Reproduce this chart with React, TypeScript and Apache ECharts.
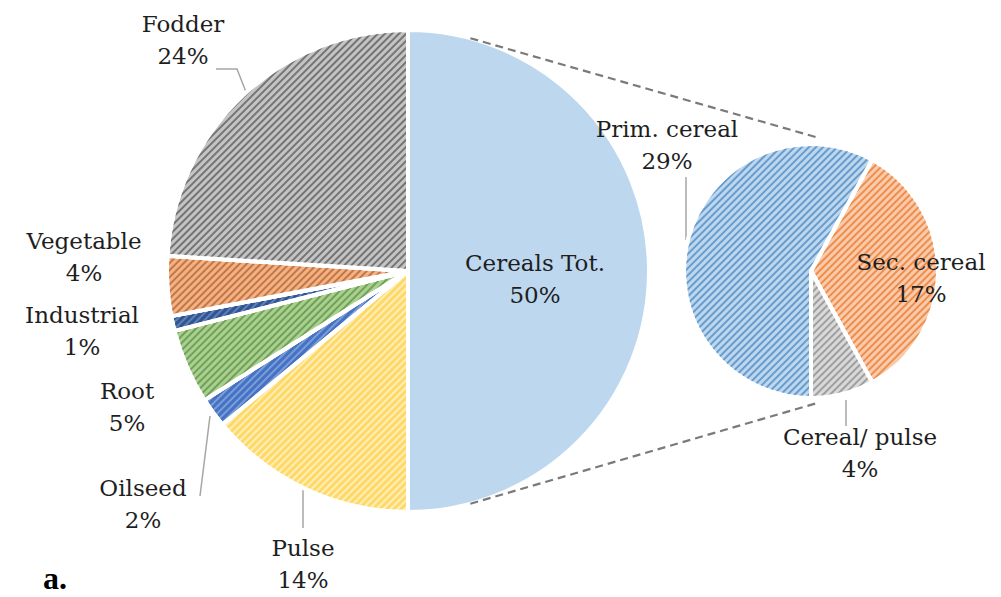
import React, { useEffect, useRef } from 'react';
import * as echarts from 'echarts';

// ---- data ----
const mainNames = ['Cereals Tot.', 'Pulse', 'Oilseed', 'Root', 'Industrial', 'Vegetable', 'Fodder'];
const mainValues = [50, 14, 2, 5, 1, 4, 24];
const subNames = ['Sec. cereal', 'Cereal/ pulse', 'Prim. cereal'];
const subValues = [17, 4, 29];

// ---- styles / layout ----
const mainColors = ['#BDD7EE', '#FFD966', '#4472C4', '#A9D18E', '#2F5597', '#F4B183', '#C4C4C4'];
const mainHatch = [null, 'rgba(255,255,255,0.55)', 'rgba(255,255,255,0.3)', 'rgba(60,110,40,0.5)', 'rgba(255,255,255,0.25)', 'rgba(150,70,20,0.55)', 'rgba(50,50,50,0.55)'];
const subColors = ['#F8CBAD', '#D9D9D9', '#BDD7EE'];
const subHatch = ['rgba(237,125,49,0.8)', 'rgba(120,120,120,0.6)', 'rgba(46,117,182,0.6)'];
const mainLabelPos = [[535, 279], [303, 564], [143, 504], [127, 407], [82, 331], [84, 257], [183, 40]];
const mainLinePts: (number[][] | null)[] = [
  null,
  [[303, 528], [303, 510], [303, 490]],
  [[200, 496], [205, 456], [210, 416]],
  null,
  null,
  null,
  [[216, 69], [237, 69], [246, 92]],
];
const subLabelPos = [[921, 278], [860, 453], [667, 145]];
const subLinePts: (number[][] | null)[] = [
  null,
  [[846, 426], [846, 413], [846, 400]],
  [[686, 177], [686, 208], [686, 240]],
];

const C1 = [408, 271];
const R1 = 241;
const C2 = [811, 271];
const R2 = 127;

const FONT = 'DejaVu Serif';

function hatch(color: string | null) {
  if (!color) return undefined;
  return {
    symbol: 'rect',
    symbolSize: 1,
    dashArrayX: [1, 0],
    dashArrayY: [1.5, 2.5],
    rotation: -Math.PI / 4,
    color,
  };
}

export default function App() {
  const ref = useRef<HTMLDivElement>(null);
  useEffect(() => {
    const chart = echarts.init(ref.current!, null, { renderer: 'svg' });
    const subTotal = subValues.reduce((a, b) => a + b, 0);
    const primShare = subValues[2] / subTotal;
    const subStart = 270 - 360 * primShare;

    const deg = Math.PI / 180;
    const topMain = [C1[0] + R1 * Math.sin(15 * deg), C1[1] - R1 * Math.cos(15 * deg)];
    const botMain = [C1[0] + R1 * Math.sin(15 * deg), C1[1] + R1 * Math.cos(15 * deg)];
    const topSub = [C2[0] + (R2 + 6) * Math.sin(4 * deg), C2[1] - (R2 + 6) * Math.cos(4 * deg)];
    const botSub = [C2[0] + (R2 + 5) * Math.sin(3 * deg), C2[1] + (R2 + 5) * Math.cos(3 * deg)];

    const labelCommon = {
      show: true,
      formatter: '{b}\n{c}%',
      fontFamily: FONT,
      fontSize: 23,
      lineHeight: 32,
      color: '#1e1e1e',
    };
    const lineCommon = { show: true, length: 10, length2: 10, lineStyle: { color: '#a6a6a6', width: 1.5 } };

    const option: any = {
      animation: false,
      backgroundColor: '#ffffff',
      graphic: [
        {
          type: 'line',
          shape: { x1: topMain[0], y1: topMain[1], x2: topSub[0], y2: topSub[1] },
          style: { stroke: '#7a7a7a', lineWidth: 2.2, lineDash: [8, 5] },
          z: 10,
        },
        {
          type: 'line',
          shape: { x1: botMain[0], y1: botMain[1], x2: botSub[0], y2: botSub[1] },
          style: { stroke: '#7a7a7a', lineWidth: 2.2, lineDash: [8, 5] },
          z: 10,
        },
        {
          type: 'text',
          left: 43,
          top: 562,
          style: { text: 'a.', font: 'bold 32px "Liberation Serif"', fill: '#000' },
        },
      ],
      series: [
        {
          type: 'pie',
          center: C1,
          radius: R1,
          startAngle: 90,
          clockwise: true,
          avoidLabelOverlap: false,
          itemStyle: { borderColor: '#ffffff', borderWidth: 4 },
          label: labelCommon,
          labelLine: lineCommon,
          labelLayout: (p: any) => {
            const o: any = {
              x: mainLabelPos[p.dataIndex][0],
              y: mainLabelPos[p.dataIndex][1],
              align: 'center',
              verticalAlign: 'middle',
            };
            const pts = mainLinePts[p.dataIndex];
            if (pts) o.labelLinePoints = pts;
            return o;
          },
          data: mainNames.map((n, i) => ({
            name: n,
            value: mainValues[i],
            itemStyle: { color: mainColors[i], decal: hatch(mainHatch[i]) },
            labelLine: { show: !!mainLinePts[i] },
          })),
        },
        {
          type: 'pie',
          center: C2,
          radius: R2,
          startAngle: subStart,
          clockwise: true,
          avoidLabelOverlap: false,
          itemStyle: { borderColor: '#ffffff', borderWidth: 4 },
          label: labelCommon,
          labelLine: lineCommon,
          labelLayout: (p: any) => {
            const o: any = {
              x: subLabelPos[p.dataIndex][0],
              y: subLabelPos[p.dataIndex][1],
              align: 'center',
              verticalAlign: 'middle',
            };
            const pts = subLinePts[p.dataIndex];
            if (pts) o.labelLinePoints = pts;
            return o;
          },
          data: subNames.map((n, i) => ({
            name: n,
            value: subValues[i],
            itemStyle: { color: subColors[i], decal: hatch(subHatch[i]) },
            labelLine: { show: !!subLinePts[i] },
          })),
        },
      ],
    };
    chart.setOption(option);
    return () => chart.dispose();
  }, []);
  return (
    <div
      ref={ref}
      style={{ position: 'absolute', left: 0, top: 0, width: 1001, height: 597, background: '#fff' }}
    />
  );
}
